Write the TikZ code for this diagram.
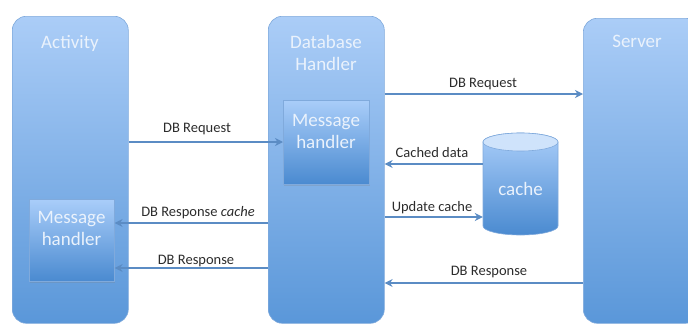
\documentclass[tikz,border=0pt]{standalone}
\usepackage{fontspec}
\setmainfont{Carlito}
\usetikzlibrary{arrows.meta,shadows}
\definecolor{boxtop}{HTML}{ABCDF7}
\definecolor{boxbot}{HTML}{5A97D9}
\definecolor{boxline}{HTML}{80AADC}
\definecolor{mhtop}{HTML}{A9CDF9}
\definecolor{mhbot}{HTML}{4A8AD0}
\definecolor{captop}{HTML}{CFE3FB}
\definecolor{arrowblue}{HTML}{5B8CC4}
\definecolor{titletext}{HTML}{EAF2FC}
\definecolor{labeltext}{HTML}{2C2C2C}
\begin{document}
\begin{tikzpicture}[x=1pt,y=-1pt,
  lane/.style={rounded corners=14pt, draw=boxline, line width=0.6pt,
    top color=boxtop, bottom color=boxbot, minimum width=116pt,
    minimum height=307pt, anchor=north west, inner sep=0pt},
  handler/.style={draw=boxline, line width=0.6pt, top color=mhtop,
    bottom color=mhbot, anchor=north west, inner sep=0pt,
    drop shadow={opacity=0.25, shadow xshift=1pt, shadow yshift=-1.5pt}},
  title/.style={text=titletext, font=\fontsize{19}{21.5}\selectfont,
    align=center, inner sep=0pt},
  msg/.style={text=labeltext, font=\fontsize{14.5}{17}\selectfont,
    anchor=base, inner sep=0pt},
  flow/.style={draw=arrowblue, line width=1.7pt,
    -{Stealth[length=8pt,width=8pt,inset=2.5pt]}},
]
\useasboundingbox (0,0) rectangle (688,324);

% swim lanes
\node[lane] (act) at (12,16) {};
\node[lane] (dbh) at (268,16) {};
\node[lane, minimum height=305pt] (srv) at (583,18) {};

\node[title, anchor=base] (tact) at (70,48) {Activity};
\node[title, anchor=base] (tdbh) at (326,70) {Database\\Handler};
\node[title, anchor=base] (tsrv) at (637,47) {Server};

% message handlers
\node[handler, minimum width=86pt, minimum height=84pt] (mhdb) at (283,100) {};
\node[handler, minimum width=85pt, minimum height=82pt] (mhact) at (29,199) {};
\node[title, anchor=base] (tmhdb) at (326,148) {Message\\handler};
\node[title, anchor=base] (tmhact) at (71.5,245) {Message\\handler};

% cache cylinder
\shade[top color=mhtop, bottom color=mhbot, draw=boxline, line width=0.6pt]
  (483,142) -- (483,226) arc[start angle=180, end angle=360,
  x radius=37.5pt, y radius=9pt] -- (558,142) arc[start angle=0,
  end angle=180, x radius=37.5pt, y radius=9pt] -- cycle;
\draw[fill=captop, draw=boxline, line width=0.6pt]
  (520.5,142) ellipse [x radius=37.5pt, y radius=9pt];
\node[title, minimum width=75pt, minimum height=94pt] (cache) at (520.5,189) {cache};

% messages
\draw[flow] (act.east |- 0,142) -- (mhdb.west |- 0,142);
\node[msg] (l1) at (197,132) {DB Request};

\draw[flow] (dbh.east |- 0,94) -- (srv.west |- 0,94);
\node[msg] (l2) at (483,87) {DB Request};

\draw[flow] (cache.west |- 0,164) -- (dbh.east |- 0,164);
\node[msg] (l3) at (432,157) {Cached data};

\draw[flow] (dbh.east |- 0,217) -- (cache.west |- 0,217);
\node[msg] (l4) at (432,211) {Update cache};

\draw[flow] (dbh.west |- 0,223) -- (mhact.east |- 0,223);
\node[msg] (l5) at (198,216) {DB Response \textit{cache}};

\draw[flow] (dbh.west |- 0,268) -- (mhact.east |- 0,268);
\node[msg] (l6) at (196,264) {DB Response};

\draw[flow] (srv.west |- 0,283) -- (dbh.east |- 0,283);
\node[msg] (l7) at (489,275) {DB Response};
\end{tikzpicture}
\end{document}
